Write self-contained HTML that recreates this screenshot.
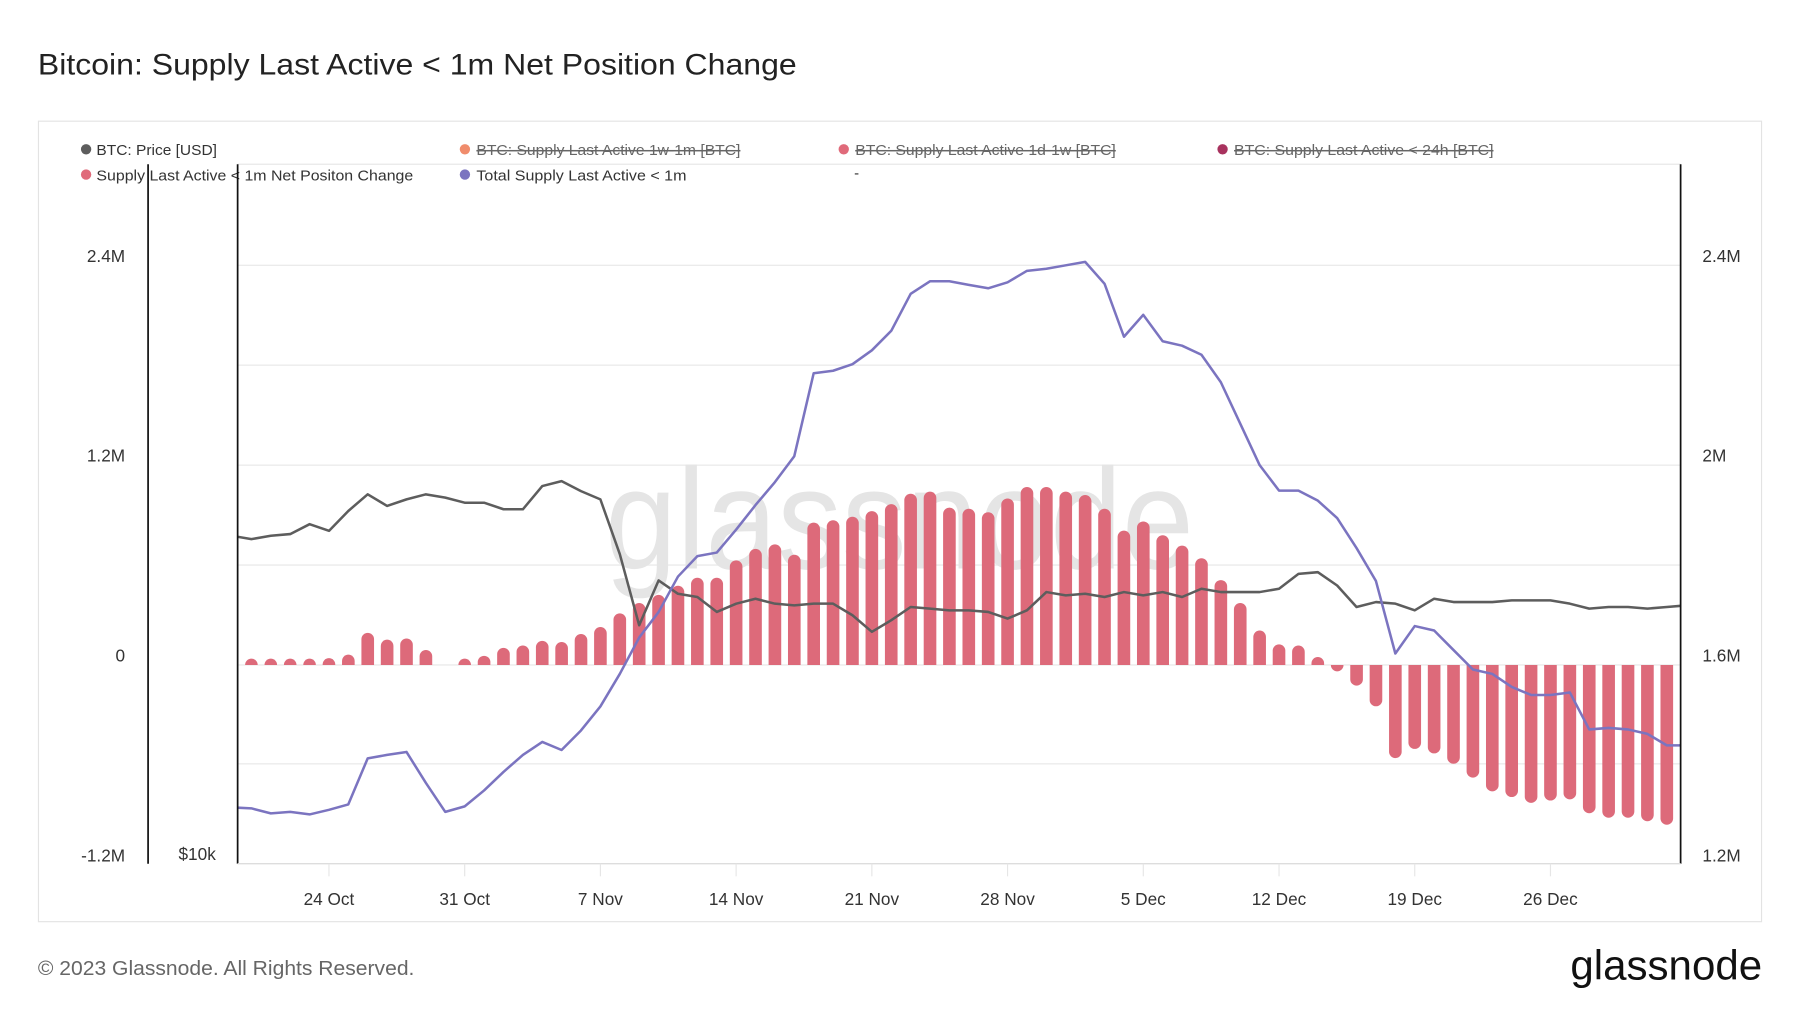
<!DOCTYPE html>
<html><head><meta charset="utf-8">
<style>
html,body{margin:0;padding:0;background:#fff;}
svg{display:block;font-family:"Liberation Sans",sans-serif;}
</style></head>
<body>
<svg id="chart" width="1800" height="1013" viewBox="0 0 1568 882" preserveAspectRatio="none" xmlns="http://www.w3.org/2000/svg">
<rect x="0" y="0" width="1568" height="882" fill="#fff"/>
<text x="33" y="65" font-size="26" fill="#222" textLength="661" lengthAdjust="spacingAndGlyphs">Bitcoin: Supply Last Active &lt; 1m Net Position Change</text>
<rect x="33.5" y="105.5" width="1501" height="697" fill="none" stroke="#e3e3e3"/>
<g id="legend" font-size="13" fill="#333">
 <g><circle cx="75" cy="130" r="4.5" fill="#5d5d5d"/><text x="84" y="135" textLength="105" lengthAdjust="spacingAndGlyphs">BTC: Price [USD]</text></g>
 <g><circle cx="405" cy="130" r="4.5" fill="#f08c6c"/><text x="415" y="135" fill="#666" text-decoration="line-through" textLength="230" lengthAdjust="spacingAndGlyphs">BTC: Supply Last Active 1w-1m [BTC]</text></g>
 <g><circle cx="735" cy="130" r="4.5" fill="#e06a7a"/><text x="745" y="135" fill="#666" text-decoration="line-through" textLength="227" lengthAdjust="spacingAndGlyphs">BTC: Supply Last Active 1d-1w [BTC]</text></g>
 <g><circle cx="1065" cy="130" r="4.5" fill="#a8325e"/><text x="1075" y="135" fill="#666" text-decoration="line-through" textLength="226" lengthAdjust="spacingAndGlyphs">BTC: Supply Last Active &lt; 24h [BTC]</text></g>
 <g><circle cx="75" cy="152" r="4.5" fill="#e06a7a"/><text x="84" y="157" textLength="276" lengthAdjust="spacingAndGlyphs">Supply Last Active &lt; 1m Net Positon Change</text></g>
 <g><circle cx="405" cy="152" r="4.5" fill="#7b74c0"/><text x="415" y="157" textLength="183" lengthAdjust="spacingAndGlyphs">Total Supply Last Active &lt; 1m</text></g>
 <text x="744" y="155">-</text>
</g>
<g id="grid"></g>
<text x="527" y="495" font-size="125" fill="#e5e5e5" textLength="513" lengthAdjust="spacingAndGlyphs">glassnode</text>
<g id="bars"></g>
<g id="lines"></g>
<g id="axes" font-size="15" fill="#333"></g>
<text x="33" y="849" font-size="18" fill="#666" textLength="328" lengthAdjust="spacingAndGlyphs">© 2023 Glassnode. All Rights Reserved.</text>
<text x="1368" y="853" font-size="36" fill="#111" textLength="167" lengthAdjust="spacingAndGlyphs">glassnode</text>
</svg>
<script>
// Days from 20 Oct 2023 (index 0)
const barValuesK = [14,7,14,14,41,62,193,152,159,90,null,21,55,103,117,145,138,186,228,310,372,421,476,524,524,628,697,724,662,855,869,890,924,966,1028,1041,945,938,917,1000,1069,1069,1041,1021,938,807,862,779,717,641,510,372,207,124,117,48,-28,-124,-248,-559,-504,-531,-593,-676,-759,-793,-828,-814,-807,-890,-917,-917,-938,-959];
// line series start at day index -1
const supplyM = [1.315,1.313,1.303,1.306,1.301,1.310,1.321,1.413,1.420,1.426,1.364,1.306,1.317,1.349,1.386,1.420,1.446,1.430,1.469,1.517,1.582,1.655,1.706,1.777,1.818,1.825,1.871,1.920,1.966,2.018,2.184,2.189,2.202,2.230,2.269,2.343,2.368,2.368,2.361,2.354,2.366,2.389,2.393,2.400,2.407,2.363,2.257,2.301,2.248,2.239,2.221,2.166,2.083,2.000,1.949,1.949,1.929,1.894,1.834,1.768,1.623,1.678,1.669,1.630,1.591,1.582,1.556,1.540,1.540,1.545,1.471,1.474,1.471,1.462,1.439,1.439];
const priceK = [29.8,29.6,29.8,29.9,30.5,30.1,31.3,32.3,31.6,32.0,32.3,32.1,31.8,31.8,31.4,31.4,32.8,33.1,32.5,32.0,28.7,24.4,27.1,26.3,26.1,25.2,25.7,26.0,25.7,25.6,25.7,25.7,25.0,24.0,24.7,25.5,25.4,25.3,25.3,25.2,24.8,25.3,26.4,26.2,26.3,26.1,26.4,26.2,26.4,26.1,26.6,26.4,26.4,26.4,26.6,27.5,27.6,26.8,25.5,25.8,25.7,25.3,26.0,25.8,25.8,25.8,25.9,25.9,25.9,25.7,25.4,25.5,25.5,25.4,25.5,25.6];
const xTickLabels = ["24 Oct","31 Oct","7 Nov","14 Nov","21 Nov","28 Nov","5 Dec","12 Dec","19 Dec","26 Dec"];
const xTickDays = [4,11,18,25,32,39,46,53,60,67];
const leftTickLabels = ["2.4M","1.2M","0","-1.2M"];
const leftTickValuesK = [2400,1200,0,-1200];
const rightTickLabels = ["2.4M","2M","1.6M","1.2M"];
const rightTickValuesM = [2.4,2.0,1.6,1.2];

const NS="http://www.w3.org/2000/svg";
const L=207,R=1464,T=143,B=752;
const xDay=d=>219+d*16.89;
const yBar=v=>579-v/1200*174;
const ySup=v=>579-(v-1.6)/0.4*174;
const yPrice=v=>752-(v-10)/0.06935;
function mk(tag,attrs,parent){const e=document.createElementNS(NS,tag);for(const k in attrs)e.setAttribute(k,attrs[k]);parent.appendChild(e);return e;}

const grid=document.getElementById('grid');
[231,318,405,492,579,665].forEach(y=>{const l=mk('line',{x1:L,x2:R,y1:y,y2:y,stroke:'#ebebeb','stroke-width':1.2},grid);

});
const topLine=mk('line',{x1:L,x2:R,y1:T,y2:T,stroke:'#e8e8e8'},grid);



const bars=document.getElementById('bars');
barValuesK.forEach((v,i)=>{
 if(v===null||v===0)return;
 const x=xDay(i)-5.5,w=11,y0=579,y1=yBar(v),r=Math.min(5.5,Math.abs(y1-y0));
 let d;
 if(v>0)d=`M${x},${y0}V${y1+r}A${r},${r} 0 0 1 ${x+w},${y1+r}V${y0}Z`;
 else d=`M${x},${y0}V${y1-r}A${r},${r} 0 0 0 ${x+w},${y1-r}V${y0}Z`;
 const p=mk('path',{d:d,fill:'#dd6a7a'},bars);
 
 
});

const lines=document.getElementById('lines');
const defs=mk('defs',{},lines);
const cp=mk('clipPath',{id:'plotclip'},defs);
mk('rect',{x:L,y:T,width:R-L,height:B-T},cp);
function poly(arr,yf,color,name){
 const pts=arr.map((v,i)=>xDay(i-1).toFixed(1)+','+yf(v).toFixed(1)).join(' ');
 const e=mk('polyline',{points:pts,fill:'none',stroke:color,'stroke-width':2.2,'stroke-linejoin':'round','clip-path':'url(#plotclip)'},lines);
 
 
}
poly(priceK,yPrice,'#5d5d5d','btc-price-line');
poly(supplyM,ySup,'#7b74c0','total-supply-line');

const axes=document.getElementById('axes');
[[129,T,129,B],[L,T,L,B],[R,T,R,B]].forEach((c,i)=>{const l=mk('line',{x1:c[0],y1:c[1],x2:c[2],y2:c[3],stroke:'#111','stroke-width':1.5},axes);

});
const bl=mk('line',{x1:L,x2:R,y1:B,y2:B,stroke:'#ddd','stroke-width':1.2},axes);


leftTickLabels.forEach((s,i)=>{const t=mk('text',{x:109,y:yBar(leftTickValuesK[i])-3,'text-anchor':'end'},axes);t.textContent=s;

});
rightTickLabels.forEach((s,i)=>{const t=mk('text',{x:1483,y:ySup(rightTickValuesM[i])-3},axes);t.textContent=s;

});
const pt=mk('text',{x:188,y:749,'text-anchor':'end'},axes);pt.textContent='$10k';


xTickLabels.forEach((s,i)=>{const x=xDay(xTickDays[i]);
 const tk=mk('line',{x1:x,x2:x,y1:B,y2:B+11,stroke:'#e6e6e6'},axes);
 
 
 const t=mk('text',{x:x,y:788,'text-anchor':'middle'},axes);t.textContent=s;
 
 });
</script>
</body></html>
